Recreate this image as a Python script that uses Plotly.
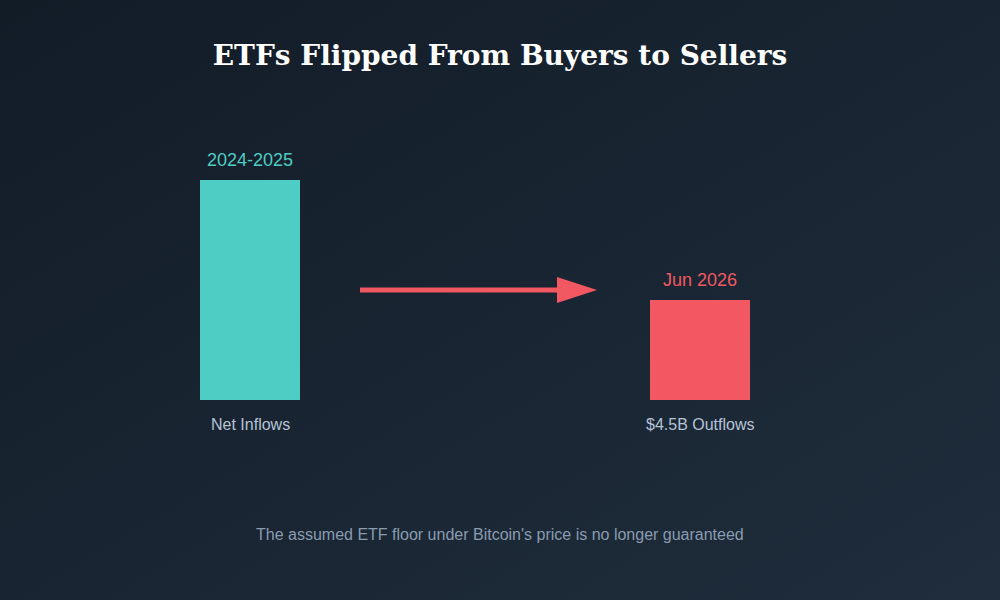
import plotly.graph_objects as go
import base64

# ---- data ----
periods = ["2024-2025", "Jun 2026"]
flow_labels = ["Net Inflows", "$4.5B Outflows"]
bar_scale = [2.2, 1.0]          # relative magnitude of ETF flows (visual scale)
bar_colors = ["#4ecdc4", "#f25862"]
title_text = "ETFs Flipped From Buyers to Sellers"
footer_text = "The assumed ETF floor under Bitcoin's price is no longer guaranteed"

W, H = 1000, 600
ML, MR, MT, MB = 25, 75, 0, 200
x_pos = list(range(len(periods)))

fig = go.Figure()
fig.add_trace(go.Bar(
    x=x_pos, y=bar_scale, width=100 / 450,
    marker=dict(color=bar_colors, line=dict(width=0)),
    hoverinfo="skip", showlegend=False,
))

# labels above / below bars
for i, (p, lab, v, c) in enumerate(zip(periods, flow_labels, bar_scale, bar_colors)):
    fig.add_annotation(x=i, y=v, text=p, showarrow=False, yanchor="bottom", yshift=8,
                       font=dict(family="Liberation Sans, Arial, sans-serif", size=18, color=c))
    fig.add_annotation(x=i, y=0, text=lab, showarrow=False, yanchor="top", yshift=-14,
                       font=dict(family="Liberation Sans, Arial, sans-serif", size=16, color="#b6c3d6"))

# arrow between the bars (decorative)
ay = 1.1
x0, xb, xt = 110 / 450, 307 / 450, 347 / 450
hh = 0.13
fig.add_shape(type="line", x0=x0, x1=xb + 0.01, y0=ay, y1=ay,
              line=dict(color=bar_colors[1], width=5))
fig.add_shape(type="path",
              path=f"M {xb},{ay - hh} L {xt},{ay} L {xb},{ay + hh} Z",
              fillcolor=bar_colors[1], line=dict(width=0))

# background gradient
svg = ('<svg xmlns="http://www.w3.org/2000/svg" width="1000" height="600">'
       '<defs><linearGradient id="g" x1="0" y1="0" x2="1" y2="1">'
       '<stop offset="0" stop-color="#121c27"/><stop offset="1" stop-color="#1f2d3c"/>'
       '</linearGradient></defs><rect width="1000" height="600" fill="url(#g)"/></svg>')
src = "data:image/svg+xml;base64," + base64.b64encode(svg.encode()).decode()
pw, ph = W - ML - MR, H - MT - MB
fig.add_layout_image(source=src, xref="paper", yref="paper",
                     x=-ML / pw, y=1 + MT / ph, sizex=W / pw, sizey=H / ph,
                     xanchor="left", yanchor="top", sizing="stretch", layer="below")

fig.update_layout(
    width=W, height=H,
    margin=dict(l=ML, r=MR, t=MT, b=MB),
    paper_bgcolor="#182431", plot_bgcolor="rgba(0,0,0,0)",
    title=dict(text=f"<b>{title_text}</b>", x=0.5, xref="container", xanchor="center",
               y=1 - 55 / H, yref="container", yanchor="middle",
               font=dict(family="DejaVu Serif, serif", size=28, color="#ffffff")),
    xaxis=dict(range=[-0.5, 1.5], visible=False, fixedrange=True),
    yaxis=dict(range=[0, 4.0], visible=False, fixedrange=True),
    annotations=list(fig.layout.annotations) + [
        dict(text=footer_text, xref="paper", yref="paper", x=(500 - ML) / pw, y=-(534 - ph) / ph,
             showarrow=False, yanchor="middle", xanchor="center",
             font=dict(family="Liberation Sans, Arial, sans-serif", size=16, color="#8a9bb0"))
    ],
)

fig.write_html("out.html")
